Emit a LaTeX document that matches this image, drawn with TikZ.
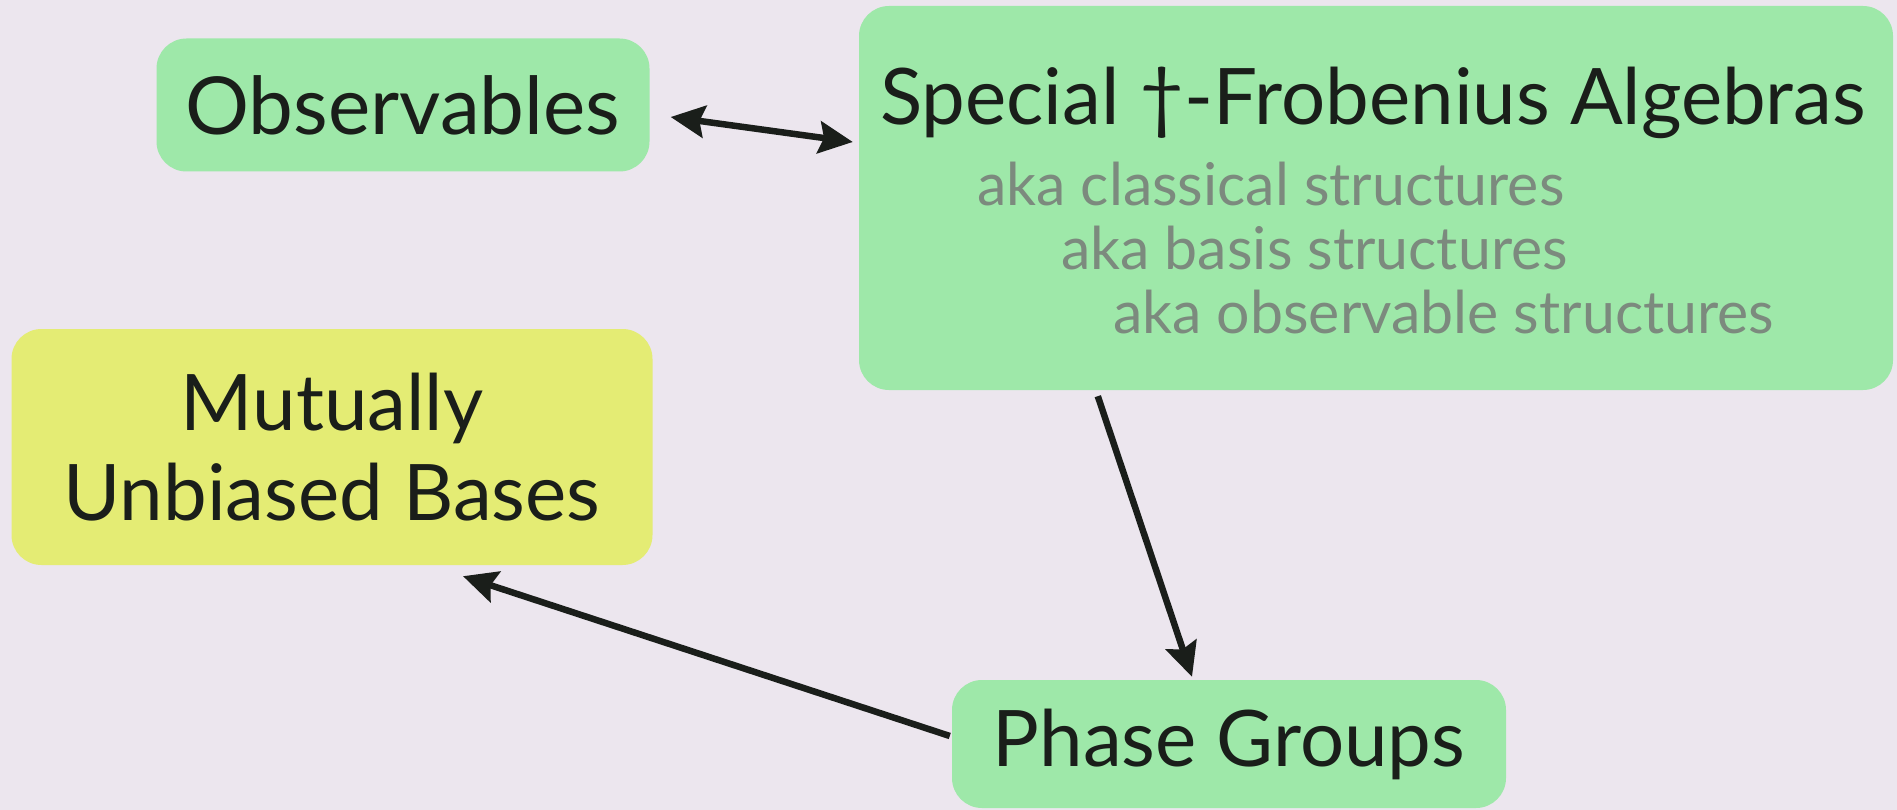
\documentclass[tikz,border=0pt]{standalone}
\usepackage{fontspec}
\setmainfont{Lato}
\usetikzlibrary{arrows.meta}
\definecolor{bgc}{HTML}{ECE6EE}
\definecolor{boxgreen}{HTML}{9EE8A9}
\definecolor{boxyellow}{HTML}{E4EC74}
\definecolor{ink}{HTML}{1A1E1A}
\definecolor{akagray}{HTML}{7C8A7E}
\tikzset{
  box/.style={rounded corners=30pt, inner sep=0pt, align=center, text=ink,
    font=\fontsize{78}{88}\selectfont},
  greenbox/.style={box, fill=boxgreen},
  yellowbox/.style={box, fill=boxyellow},
  aka/.style={anchor=west, inner sep=0pt, text=akagray, font=\fontsize{59}{64}\selectfont},
  title/.style={inner sep=0pt, text=ink, font=\fontsize{78}{88}\selectfont},
  link/.style={line width=6.5pt, draw=ink, -{Stealth[length=34pt,width=32pt,inset=5pt]}},
  dlink/.style={line width=6.5pt, draw=ink, {Stealth[length=34pt,width=32pt,inset=5pt]}-{Stealth[length=34pt,width=32pt,inset=5pt]}}
}
\begin{document}
\begin{tikzpicture}[x=1pt,y=-1pt]
  \fill[bgc] (0,0) rectangle (1897,810);
  \useasboundingbox (0,0) rectangle (1897,810);

  % boxes
  \node[greenbox, minimum width=493pt, minimum height=133pt] (obs) at (403,105)
    {\fontsize{80}{88}\selectfont Observables};
  \node[greenbox, minimum width=1034pt, minimum height=384pt] (spec) at (1376,198) {};
  \node[yellowbox, minimum width=641pt, minimum height=236pt] (mub) at (332,447)
    {Mutually\\[2pt]Unbiased Bases};
  \node[greenbox, minimum width=554pt, minimum height=128pt] (phase) at (1229,744) {Phase Groups};

  % contents of the Frobenius box
  \node[title] (spectitle) at (1373,103) {Special †-Frobenius Algebras};
  \node[aka] (aka1) at (977,184) {aka classical structures};
  \node[aka] (aka2) at (1061,248) {aka basis structures};
  \node[aka] (aka3) at (1113,312) {aka observable structures};

  % connectors
  \draw[dlink] ([xshift=21pt,yshift=-12pt]obs.east) -- ([xshift=-6pt,yshift=56pt]spec.west);
  \draw[link] ([xshift=239pt,yshift=-6pt]spec.south west) -- ([xshift=-37pt,yshift=3pt]phase.north);
  \draw[link] ([xshift=-2pt,yshift=8pt]phase.west) -- ([xshift=131pt,yshift=-11pt]mub.south);
\end{tikzpicture}
\end{document}
